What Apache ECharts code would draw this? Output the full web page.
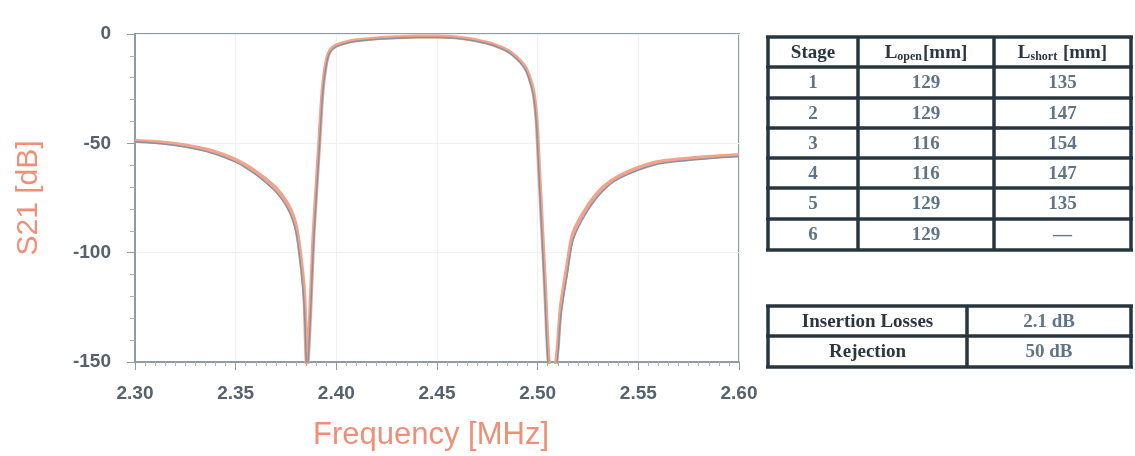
<!DOCTYPE html>
<html>
<head>
<meta charset="utf-8">
<script src="https://cdn.jsdelivr.net/npm/echarts@6/dist/echarts.min.js"></script>
<style>
html,body{margin:0;padding:0;background:#fff;}
#chart{width:1135px;height:456px;}
</style>
</head>
<body>
<div id="chart"></div>
<script>
// ---- Data ----
const freq = [2.300,2.310,2.320,2.330,2.340,2.350,2.355,2.360,2.365,2.370,2.375,2.378,2.380,2.382,2.384,2.3855,2.387,2.3885,2.390,2.3915,2.393,2.394,2.3955,2.397,2.400,2.405,2.410,2.420,2.430,2.440,2.450,2.460,2.465,2.470,2.475,2.480,2.485,2.488,2.491,2.494,2.496,2.498,2.4995,2.5005,2.502,2.5037,2.5052,2.5065,2.508,2.5097,2.5115,2.5147,2.5177,2.5247,2.5327,2.5411,2.5576,2.5746,2.5900,2.600];
const s21Sim = [-48.8,-49.4,-50.3,-51.8,-54.0,-57.5,-60.0,-63.0,-66.5,-70.5,-76.5,-82.0,-88.0,-100.0,-118.0,-152.0,-128.0,-95.0,-72.0,-50.0,-28.0,-19.0,-11.0,-7.5,-5.2,-3.8,-2.9,-2.0,-1.5,-1.2,-1.2,-1.6,-2.2,-3.0,-4.0,-5.5,-7.5,-9.5,-12.0,-15.5,-20.0,-27.0,-40.0,-58.0,-85.0,-116.0,-146.0,-155.0,-155.0,-146.0,-125.0,-106.0,-91.0,-79.0,-70.0,-64.7,-59.0,-57.0,-55.9,-55.3];
const s21Meas = [-49.3,-50.0,-51.0,-52.6,-55.0,-58.6,-61.2,-64.3,-68.0,-72.3,-78.5,-84.5,-91.0,-104.0,-124.0,-155.0,-132.0,-99.0,-75.0,-53.0,-30.0,-20.5,-12.0,-8.2,-5.8,-4.2,-3.3,-2.4,-1.9,-1.6,-1.6,-2.0,-2.6,-3.4,-4.5,-6.0,-8.0,-10.2,-12.8,-16.5,-21.5,-29.0,-43.0,-62.0,-90.0,-122.0,-152.0,-155.0,-155.0,-150.0,-129.0,-110.0,-94.0,-81.0,-71.5,-65.8,-60.0,-57.8,-56.6,-56.0];
const xTicks = ['2.30','2.35','2.40','2.45','2.50','2.55','2.60'];
const yTicks = ['0','-50','-100','-150'];

const tableHeader = ['Stage', 'L_open[mm]', 'L_short [mm]'];
const stages = ['1','2','3','4','5','6'];
const lenOpen = ['129','129','116','116','129','129'];
const lenShort = ['135','147','154','147','135','\u2014'];
const summaryLabels = ['Insertion Losses','Rejection'];
const summaryValues = ['2.1 dB','50 dB'];

// ---- Chart ----
const chart = echarts.init(document.getElementById('chart'));
const pairs = a => freq.map((f,i)=>[f,a[i]]);

// Table graphics
const lineColor = '#27363f';
const serif = '"Liberation Serif","DejaVu Serif",serif';
const hdrColor = '#2b3640';
const numColor = '#5f7585';
const g = [];
const tX = [768, 858, 994, 1131];
const tY = [37, 67, 98, 128, 158, 188, 219, 250];
function hline(x1,x2,y){g.push({type:'line',shape:{x1:x1,y1:y,x2:x2,y2:y},style:{stroke:lineColor,lineWidth:3.5},z:10});}
function vline(x,y1,y2){g.push({type:'line',shape:{x1:x,y1:y1,x2:x,y2:y2},style:{stroke:lineColor,lineWidth:3.5},z:10});}
function cellText(txt,x,y,color){
  g.push({type:'text',x:x,y:y,style:{text:txt,fill:color,font:'bold 19px '+serif,align:'center',verticalAlign:'middle'},z:11});
}
tY.forEach(y=>hline(tX[0]-2,tX[3]+2,y));
tX.forEach(x=>vline(x,tY[0],tY[tY.length-1]));
const richHdr = {
  b:{font:'bold 19px '+serif, fill:hdrColor},
  s:{font:'bold 12px '+serif, fill:hdrColor, padding:[7,1,0,0]}
};
function hdrRich(h){
  const m = h.match(/^L_(\w+)(\s?\[mm\])$/);
  if(!m) return '{b|'+h+'}';
  return '{b|L}{s|'+m[1]+'}{b|'+m[2]+'}';
}
tableHeader.forEach((h,i)=>{
  const cx=(tX[i]+tX[i+1])/2, cy=(tY[0]+tY[1])/2+1;
  g.push({type:'text',x:cx,y:cy,style:{text:hdrRich(h),rich:richHdr,fill:hdrColor,font:'bold 19px '+serif,align:'center',verticalAlign:'middle'},z:11});
});
stages.forEach((s,r)=>{
  const cy=(tY[r+1]+tY[r+2])/2+1;
  cellText(s,(tX[0]+tX[1])/2,cy,numColor);
  cellText(lenOpen[r],(tX[1]+tX[2])/2,cy,numColor);
  cellText(lenShort[r],(tX[2]+tX[3])/2,cy,numColor);
});
const sX = [768, 967, 1131];
const sY = [306, 336, 367];
sY.forEach(y=>hline(sX[0]-2,sX[2]+2,y));
sX.forEach(x=>vline(x,sY[0],sY[2]));
summaryLabels.forEach((l,r)=>{
  const cy=(sY[r]+sY[r+1])/2+1;
  cellText(l,(sX[0]+sX[1])/2,cy,hdrColor);
  cellText(summaryValues[r],(sX[1]+sX[2])/2,cy,numColor);
});

const axisGrey = '#8d9ba5';
const labelCol = '#55616b';
const sans = '"Liberation Sans",Arial,sans-serif';
chart.setOption({
  backgroundColor:'#ffffff',
  animation:false,
  grid:{left:135,right:396,top:34,bottom:94,show:true,borderColor:axisGrey,borderWidth:2},
  xAxis:{
    type:'value',min:2.30,max:2.60,interval:0.05,
    name:'Frequency [MHz]',nameLocation:'middle',nameGap:58,
    nameTextStyle:{color:'#ef8f78',fontSize:31,fontFamily:sans,padding:[0,12,0,0]},
    axisLine:{show:true,onZero:false,lineStyle:{color:axisGrey,width:2}},
    axisTick:{show:true,length:8,lineStyle:{color:axisGrey}},
    minorTick:{show:true,splitNumber:10,length:4,lineStyle:{color:'#a9b5bd'}},
    splitLine:{show:true,lineStyle:{color:'#eef1f3',width:1}},
    axisLabel:{margin:22,color:labelCol,fontSize:19,fontWeight:'bold',fontFamily:sans,
      formatter:v=>{const i=Math.round((v-2.30)/0.05);return xTicks[i]!==undefined?xTicks[i]:'';}}
  },
  yAxis:{
    type:'value',min:-150,max:0,interval:50,
    name:'S21 [dB]',nameLocation:'middle',nameRotate:90,nameGap:91,
    nameTextStyle:{color:'#ef8f78',fontSize:30,fontFamily:sans,padding:[0,0,0,0]},
    axisLine:{show:true,onZero:false,lineStyle:{color:axisGrey,width:2}},
    axisTick:{show:true,length:8,lineStyle:{color:axisGrey}},
    minorTick:{show:true,splitNumber:5,length:5,lineStyle:{color:'#a9b5bd'}},
    splitLine:{show:true,lineStyle:{color:'#eef1f3',width:1}},
    axisLabel:{margin:24,color:labelCol,fontSize:19,fontWeight:'bold',fontFamily:sans,
      formatter:v=>{const i=Math.round(-v/50);return yTicks[i]!==undefined?yTicks[i]:'';}}
  },
  series:[
    {type:'line',data:pairs(s21Sim),symbol:'none',smooth:0.3,clip:true,
     lineStyle:{color:'#f3a38c',width:4},z:2},
    {type:'line',data:pairs(s21Meas),symbol:'none',smooth:0.3,clip:true,
     lineStyle:{color:'#8494a0',width:1.5},z:3}
  ],
  graphic:g
});
</script>
</body>
</html>
